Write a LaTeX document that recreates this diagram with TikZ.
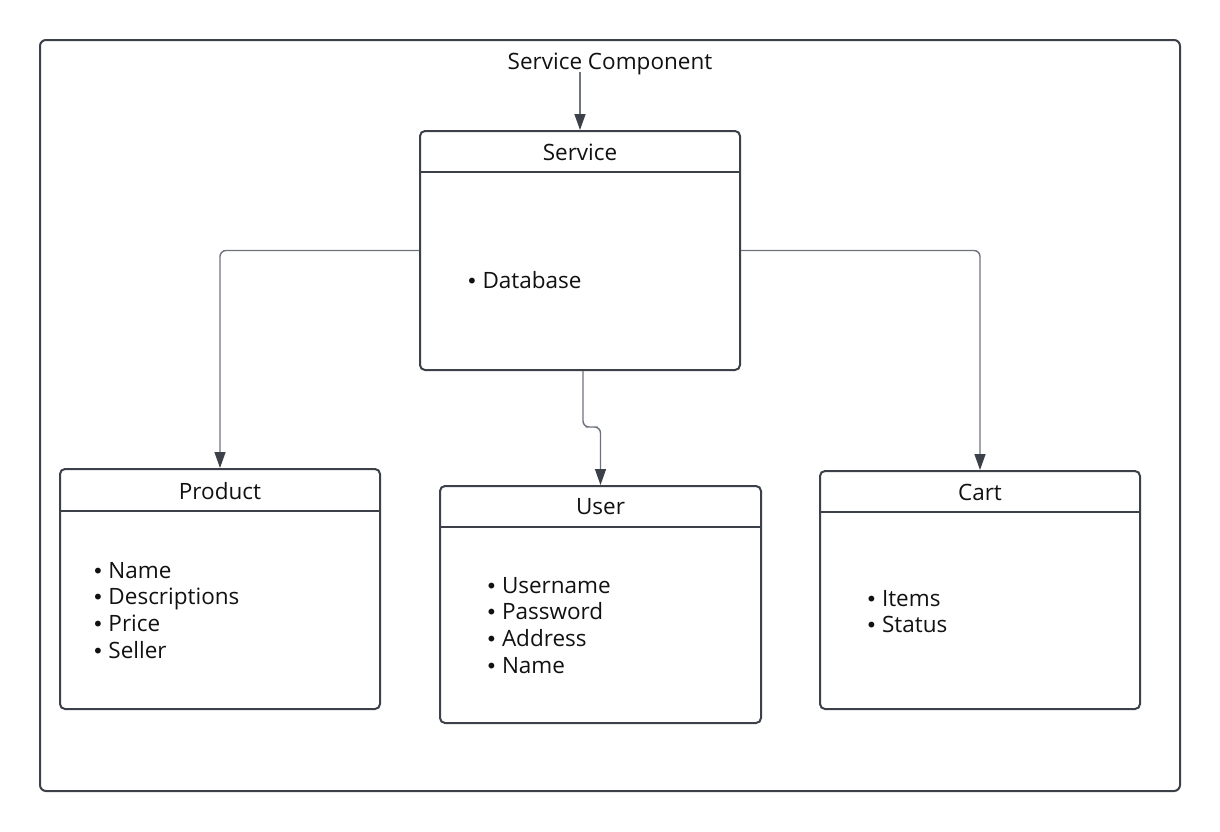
\documentclass[tikz,border=0pt]{standalone}
\usepackage{fontspec}
\setmainfont{Open Sans}
\newfontfamily\bulletfont{DejaVu Sans}
\usetikzlibrary{arrows.meta}
\definecolor{boxline}{HTML}{3B4049}
\definecolor{connline}{HTML}{6E737C}
\definecolor{txt}{HTML}{111111}
\newcommand{\bul}{{\bulletfont\fontsize{20}{26}\selectfont •}\hspace{4.5pt}}
\tikzset{
  umlbox/.style={draw=boxline, line width=2pt, rounded corners=5pt, minimum width=#1, inner sep=0pt, fill=white},
  lbl/.style={text=txt, inner sep=0pt, font=\fontsize{22.5}{26}\selectfont, anchor=base},
  item/.style={text=txt, inner sep=0pt, font=\fontsize{22.5}{26}\selectfont, anchor=base west},
  conn/.style={draw=connline, line width=1.4pt, rounded corners=6pt},
  tip/.style={-{Triangle[length=16pt,width=11pt,color=boxline]}}
}
\begin{document}
\begin{tikzpicture}[x=1pt,y=-1pt]
\useasboundingbox (0,0) rectangle (1220,831);
% outer frame
\draw[draw=boxline, line width=2pt, rounded corners=6pt] (40,40) rectangle (1180,791);
% boxes
\node[umlbox=320pt, minimum height=239pt] (service) at (580,250.5) {};
\node[umlbox=320pt, minimum height=240pt] (product) at (220,589) {};
\node[umlbox=321pt, minimum height=237pt] (user) at (600.5,604.5) {};
\node[umlbox=320pt, minimum height=238pt] (cart) at (980,590) {};
% header separators
\draw[draw=boxline, line width=2pt] ([yshift=-42pt]service.north west) -- ([yshift=-42pt]service.north east);
\draw[draw=boxline, line width=2pt] ([yshift=-43pt]product.north west) -- ([yshift=-43pt]product.north east);
\draw[draw=boxline, line width=2pt] ([yshift=-42pt]user.north west) -- ([yshift=-42pt]user.north east);
\draw[draw=boxline, line width=2pt] ([yshift=-42pt]cart.north west) -- ([yshift=-42pt]cart.north east);
% titles
\node[lbl] (title) at (610,69.3) {Service Component};
\node[lbl] (serviceT) at (580,160.7) {Service};
\node[lbl] (productT) at (220,499.3) {Product};
\node[lbl] (userT) at (600.5,514) {User};
\node[lbl] (cartT) at (980,500) {Cart};
% items
\node[item] (s1) at (466,288.3) {\bul Database};
\node[item] (p1) at (92,578.3) {\bul Name};
\node[item] (p2) at (92,604.9) {\bul Descriptions};
\node[item] (p3) at (92,631.5) {\bul Price};
\node[item] (p4) at (92,658.1) {\bul Seller};
\node[item] (u1) at (485.5,593.3) {\bul Username};
\node[item] (u2) at (485.5,619.9) {\bul Password};
\node[item] (u3) at (485.5,646.5) {\bul Address};
\node[item] (u4) at (485.5,673.1) {\bul Name};
\node[item] (c1) at (865.5,606) {\bul Items};
\node[item] (c2) at (865.5,632.6) {\bul Status};
% connectors
\draw[conn, tip] ([yshift=-2.4pt]title.base -| service.north) -- (service.north);
\draw[conn, tip] (service.west) -| (product.north);
\draw[conn, tip] (service.east) -| (cart.north);
\draw[conn, tip] ([xshift=3pt]service.south) |- (591.5,427) -| (user.north);
\end{tikzpicture}
\end{document}
